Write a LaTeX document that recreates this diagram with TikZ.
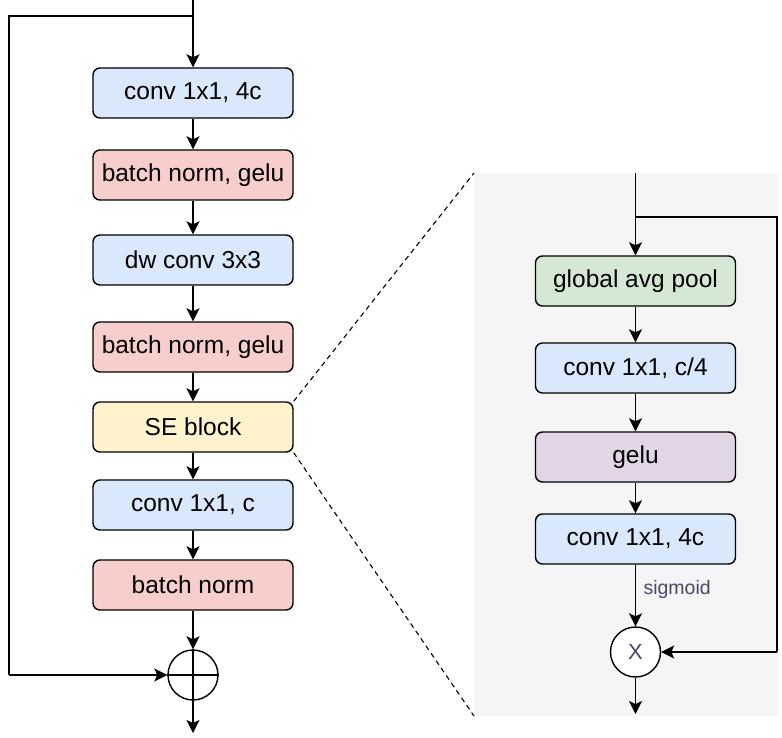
\documentclass[tikz,border=0pt]{standalone}
\usepackage{fontspec}
\setmainfont{Liberation Sans}
\usetikzlibrary{arrows.meta,positioning,calc}
\definecolor{cblue}{HTML}{DAE8FC}
\definecolor{cred}{HTML}{F8CECC}
\definecolor{cyellow}{HTML}{FFF2CC}
\definecolor{cgreen}{HTML}{D5E8D4}
\definecolor{cpurple}{HTML}{E1D5E7}
\definecolor{cpanel}{HTML}{F5F5F5}
\definecolor{ctext}{HTML}{484866}
\tikzset{
  blk/.style={draw=black, line width=1.4pt, rounded corners=7pt, minimum width=200pt, minimum height=50pt, inner sep=0pt, font=\fontsize{24.5}{29}\selectfont},
  flow/.style={line width=1.4pt, -{Stealth[length=13pt,width=13pt,inset=3pt]}},
  plain/.style={line width=1.4pt},
  opcirc/.style={draw=black, line width=1.4pt, circle, minimum size=50pt, inner sep=0pt, fill=white}
}
\begin{document}
\begin{tikzpicture}[x=1pt,y=-1pt]
\useasboundingbox (0,0) rectangle (782,738);
% right panel background
\fill[cpanel] (474,173) rectangle (778,716);
% left column
\node[blk, fill=cblue]   (c1) at (193,93)  {conv 1x1, 4c};
\node[blk, fill=cred]    (b1) at (193,175) {batch norm, gelu};
\node[blk, fill=cblue]   (dw) at (193,260) {dw conv 3x3};
\node[blk, fill=cred]    (b2) at (193,347) {batch norm, gelu};
\node[blk, fill=cyellow] (se) at (193,427) {SE block};
\node[blk, fill=cblue]   (c2) at (193,505) {conv 1x1, c};
\node[blk, fill=cred]    (b3) at (193,585) {batch norm};
\node[opcirc] (add) at (193,675) {};
\draw[plain] (add.north) -- (add.south) (add.west) -- (add.east);
\coordinate (in) at (193,0);
\coordinate (split) at (193,16);
\coordinate (out) at (193,733);
\draw[flow] (in) -- (c1);
\draw[plain] (split) -- (9,16) -- (9,675);
\draw[flow] (9,675) -- (add.west);
\draw[flow] (c1) -- (b1);
\draw[flow] (b1) -- (dw);
\draw[flow] (dw) -- (b2);
\draw[flow] (b2) -- (se);
\draw[flow] (se) -- (c2);
\draw[flow] (c2) -- (b3);
\draw[flow] (b3) -- (add);
\draw[flow] (add) -- (out);
% right column
\node[blk, fill=cgreen]  (gp) at (635.5,281) {global avg pool};
\node[blk, fill=cblue]   (r1) at (635.5,368) {conv 1x1, c/4};
\node[blk, fill=cpurple] (ge) at (635.5,457) {gelu};
\node[blk, fill=cblue]   (r2) at (635.5,539) {conv 1x1, 4c};
\node[opcirc] (mul) at (635.5,652) {\fontsize{22}{26}\selectfont\color{ctext}X};
\coordinate (rin) at (635.5,173);
\coordinate (rsplit) at (635.5,217);
\coordinate (rout) at (635.5,714);
\draw[flow] (rin) -- (gp);
\draw[plain] (rsplit) -- (777,217) -- (777,652);
\draw[flow] (777,652) -- (mul.east);
\draw[flow] (gp) -- (r1);
\draw[flow] (r1) -- (ge);
\draw[flow] (ge) -- (r2);
\draw[flow] (r2) -- node[right=4pt, pos=0.4, font=\fontsize{19.5}{23}\selectfont, text=ctext] {sigmoid} (mul);
\draw[flow] (mul) -- (rout);
% zoom lines
\draw[dashed, line width=1.1pt, dash pattern=on 5pt off 4pt] (se.north east) -- (474,173);
\draw[dashed, line width=1.1pt, dash pattern=on 5pt off 4pt] (se.south east) -- (474,716);
\end{tikzpicture}
\end{document}
